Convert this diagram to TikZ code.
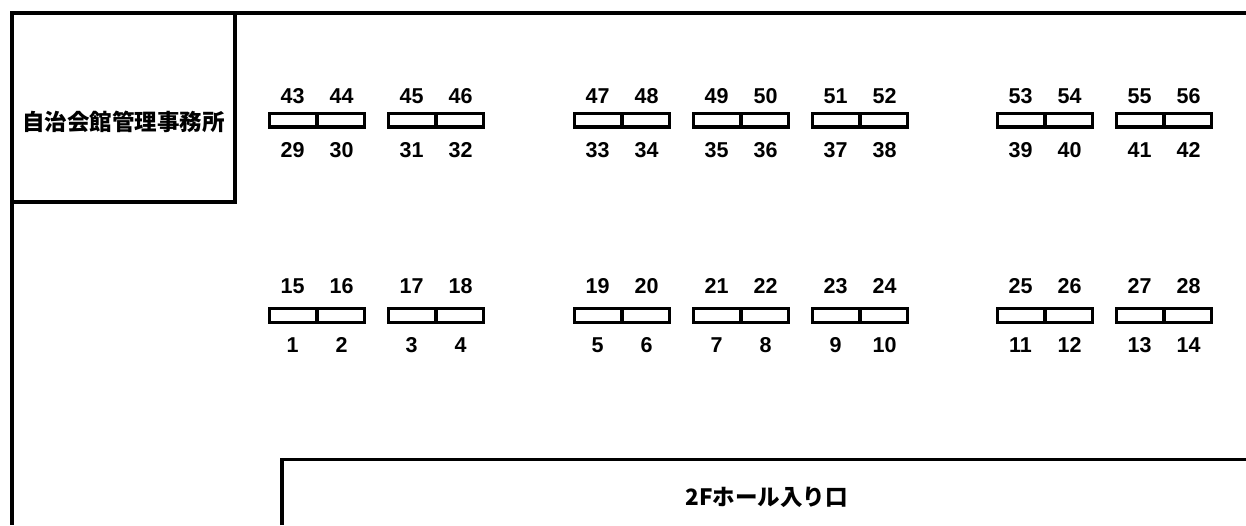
\documentclass[tikz,border=0pt]{standalone}
\usepackage{fontspec}
\setmainfont{Liberation Sans}
\newfontfamily\cjk{Noto Sans CJK JP}
\begin{document}
\begin{tikzpicture}[x=1pt,y=-1pt]
\tikzset{
  wall/.style={line width=3.8pt, line join=miter},
  desk/.style={draw, line width=3.4pt},
  num/.style={inner sep=0pt, anchor=base, font=\fontsize{21.5}{25}\selectfont\bfseries},
  jlabel/.style={inner sep=0pt, font=\fontsize{22.5}{26}\selectfont\cjk\bfseries}
}
\useasboundingbox (0,0) rectangle (1246,525);
\fill[white] (0,0) rectangle (1246,525);
% outer walls
\draw[wall] (1246,13.3) -- (12.3,13.3) -- (12.3,525);
% office
\draw[wall] (12.3,202) -- (235,202) -- (235,13.3);
\node[jlabel] (office) at (123.5,121.5) {自治会館管理事務所};
% entrance
\draw[wall] (282,525) -- (282,459.5) -- (1246,459.5);
\node[jlabel] (entrance) at (766.5,497) {2Fホール入り口};
% desks
\foreach \xs [count=\k from 0] in {268,387,573,692,811,996,1115} {
  \pgfmathtruncatemacro{\ta}{43+2*\k}
  \pgfmathtruncatemacro{\tb}{44+2*\k}
  \pgfmathtruncatemacro{\ba}{29+2*\k}
  \pgfmathtruncatemacro{\bb}{30+2*\k}
  \pgfmathtruncatemacro{\ua}{15+2*\k}
  \pgfmathtruncatemacro{\ub}{16+2*\k}
  \pgfmathtruncatemacro{\la}{1+2*\k}
  \pgfmathtruncatemacro{\lb}{2+2*\k}
  % row 1
  \draw[desk] (\xs+1.7,113.7) rectangle (\xs+96.3,127);
  \draw[desk] (\xs+49,113.7) -- (\xs+49,127);
  \node[num] (r1t\k a) at (\xs+24.5,103.7) {\ta};
  \node[num] (r1t\k b) at (\xs+73.5,103.7) {\tb};
  \node[num] (r1b\k a) at (\xs+24.5,157.2) {\ba};
  \node[num] (r1b\k b) at (\xs+73.5,157.2) {\bb};
  % row 2
  \draw[desk] (\xs+1.7,308.5) rectangle (\xs+96.3,322.3);
  \draw[desk] (\xs+49,308.5) -- (\xs+49,322.3);
  \node[num] (r2t\k a) at (\xs+24.5,293.7) {\ua};
  \node[num] (r2t\k b) at (\xs+73.5,293.7) {\ub};
  \node[num] (r2b\k a) at (\xs+24.5,352.7) {\la};
  \node[num] (r2b\k b) at (\xs+73.5,352.7) {\lb};
}
\end{tikzpicture}
\end{document}
